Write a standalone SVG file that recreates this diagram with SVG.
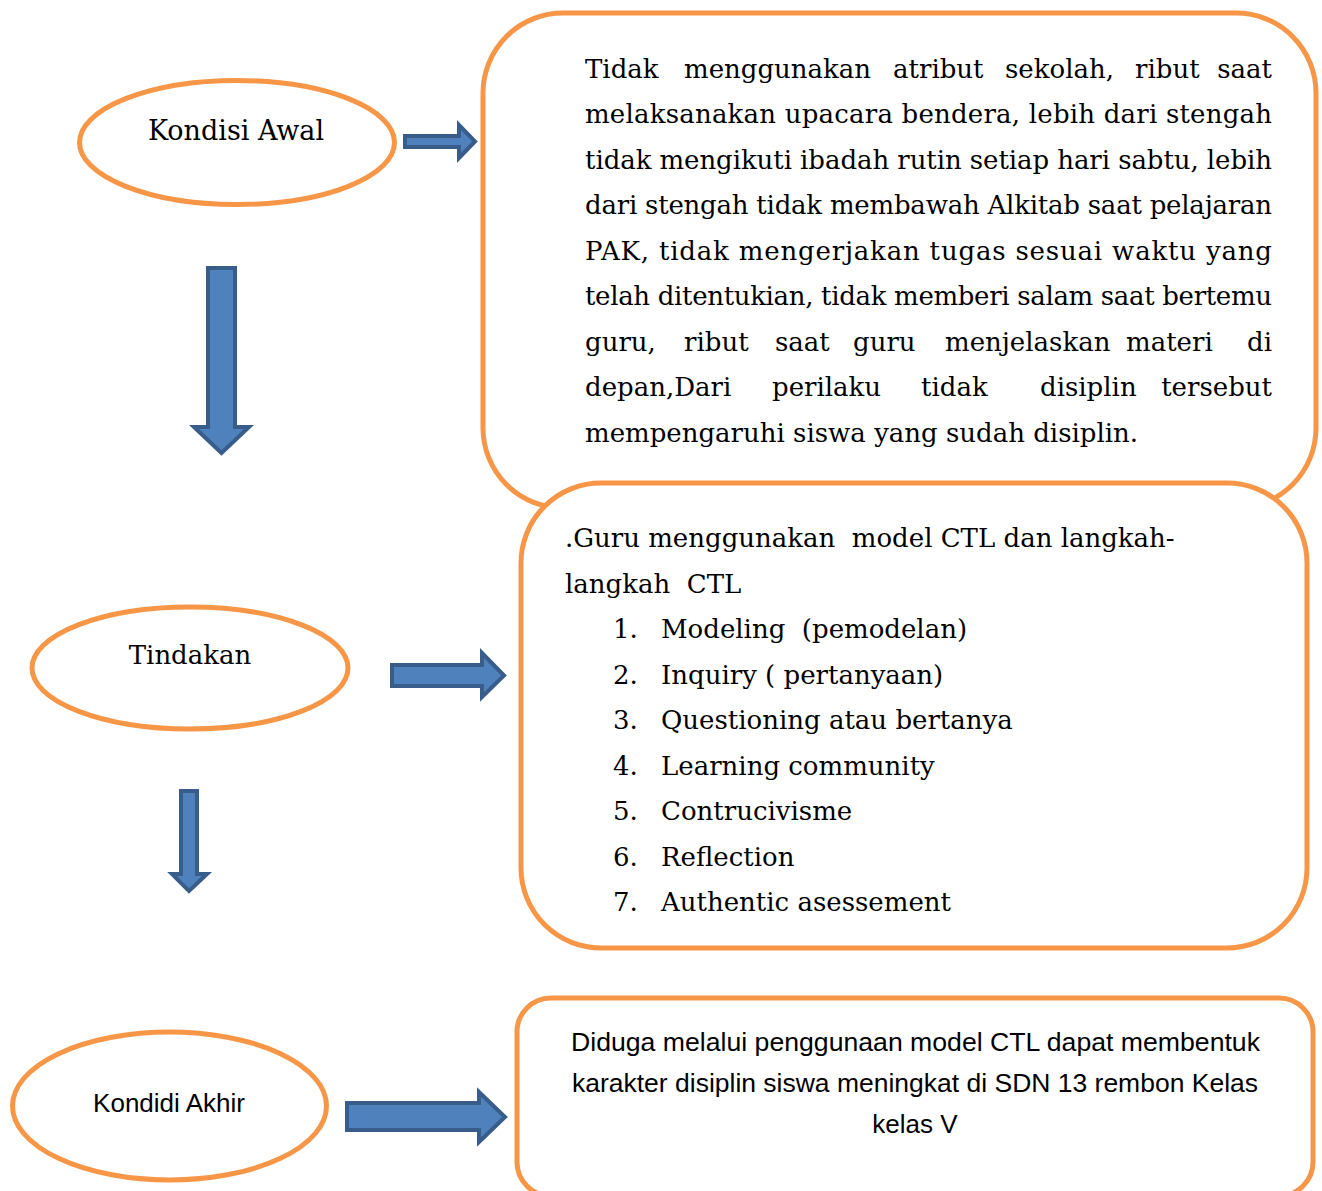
<svg xmlns="http://www.w3.org/2000/svg" width="1322" height="1191" viewBox="0 0 1322 1191">
<style>
.node{fill:#fff;stroke:#F79646;stroke-width:5}
.arrow{fill:#4F81BD;stroke:#385D8A;stroke-width:4;stroke-linejoin:miter}
.serif{font-family:"DejaVu Serif","Liberation Serif",serif;font-size:26px;fill:#000}
.sans{font-family:"Liberation Sans",Arial,sans-serif;font-size:26px;fill:#000}
.pre{white-space:pre}
</style>
<rect width="1322" height="1191" fill="#fff"/>
<g id="kondisi-awal">
<ellipse class="node" cx="237" cy="142.5" rx="157.5" ry="62"/>
<text class="serif" x="236" y="140" text-anchor="middle" style="font-size:27px">Kondisi Awal</text>
</g>
<g id="box-kondisi-awal">
<rect class="node" x="483" y="13" width="833" height="495" rx="80" ry="80"/>
<text class="serif" y="78"><tspan x="585">Tidak</tspan><tspan x="684">menggunakan</tspan><tspan x="893">atribut</tspan><tspan x="1005">sekolah,</tspan><tspan x="1135">ribut</tspan></text>
<text class="serif" x="1272" y="78" text-anchor="end">saat</text>
<text class="serif" x="585" y="123" textLength="687" lengthAdjust="spacing">melaksanakan upacara bendera, lebih dari stengah</text>
<text class="serif" x="585" y="169" textLength="687" lengthAdjust="spacing">tidak mengikuti ibadah rutin setiap hari sabtu, lebih</text>
<text class="serif" x="585" y="214" textLength="687" lengthAdjust="spacing">dari stengah tidak membawah Alkitab saat pelajaran</text>
<text class="serif" x="585" y="260" textLength="687" lengthAdjust="spacing">PAK, tidak mengerjakan tugas sesuai waktu yang</text>
<text class="serif" x="585" y="305" textLength="687" lengthAdjust="spacing">telah ditentukian, tidak memberi salam saat bertemu</text>
<text class="serif" y="351"><tspan x="585">guru,</tspan><tspan x="684">ribut</tspan><tspan x="775">saat</tspan><tspan x="853">guru</tspan><tspan x="945">menjelaskan</tspan><tspan x="1126">materi</tspan></text>
<text class="serif" x="1272" y="351" text-anchor="end">di</text>
<text class="serif" y="396"><tspan x="585">depan,Dari</tspan><tspan x="772">perilaku</tspan><tspan x="921">tidak</tspan><tspan x="1040">disiplin</tspan></text>
<text class="serif" x="1272" y="396" text-anchor="end">tersebut</text>
<text class="serif" x="585" y="442">mempengaruhi siswa yang sudah disiplin.</text>
</g>
<g id="tindakan">
<ellipse class="node" cx="190" cy="668" rx="158" ry="61"/>
<text class="serif" x="190" y="664" text-anchor="middle">Tindakan</text>
</g>
<g id="box-tindakan">
<rect class="node" x="521" y="483" width="786" height="465" rx="80" ry="80"/>
<text class="serif pre" xml:space="preserve" x="565" y="547">.Guru menggunakan  model CTL dan langkah-</text>
<text class="serif pre" xml:space="preserve" x="565" y="593">langkah  CTL</text>
<text class="serif pre" xml:space="preserve" y="638"><tspan x="613">1.</tspan><tspan x="661">Modeling  (pemodelan)</tspan></text>
<text class="serif" y="684"><tspan x="613">2.</tspan><tspan x="661">Inquiry ( pertanyaan)</tspan></text>
<text class="serif" y="729"><tspan x="613">3.</tspan><tspan x="661">Questioning atau bertanya</tspan></text>
<text class="serif" y="775"><tspan x="613">4.</tspan><tspan x="661">Learning community</tspan></text>
<text class="serif" y="820"><tspan x="613">5.</tspan><tspan x="661">Contrucivisme</tspan></text>
<text class="serif" y="866"><tspan x="613">6.</tspan><tspan x="661">Reflection</tspan></text>
<text class="serif" y="911"><tspan x="613">7.</tspan><tspan x="661">Authentic asessement</tspan></text>
</g>
<g id="kondidi-akhir">
<ellipse class="node" cx="169.5" cy="1106" rx="157" ry="74"/>
<text class="sans" x="169" y="1112" text-anchor="middle">Kondidi Akhir</text>
</g>
<g id="box-kondidi-akhir">
<rect class="node" x="517" y="998" width="796" height="198" rx="34" ry="34"/>
<text class="sans" x="571" y="1051" textLength="689" lengthAdjust="spacingAndGlyphs">Diduga melalui penggunaan model CTL dapat membentuk</text>
<text class="sans" x="572" y="1092" textLength="686" lengthAdjust="spacingAndGlyphs">karakter disiplin siswa meningkat di SDN 13 rembon Kelas</text>
<text class="sans" x="915" y="1133" text-anchor="middle">kelas V</text>
</g>
<g id="connectors">
<path class="arrow" d="M405,136 H459 V125 L475,141.5 L459,158 V147 H405 Z"/>
<path class="arrow" d="M208,268 H235 V427 H249 L221.5,453 L194,427 H208 Z"/>
<path class="arrow" d="M392,665 H482 V653 L504,675.5 L482,697 V686 H392 Z"/>
<path class="arrow" d="M181,791 H197 V874 H207 L189,891 L172,874 H181 Z"/>
<path class="arrow" d="M347,1103 H479 V1092 L505,1117 L479,1142 V1130 H347 Z"/>
</g>
</svg>
